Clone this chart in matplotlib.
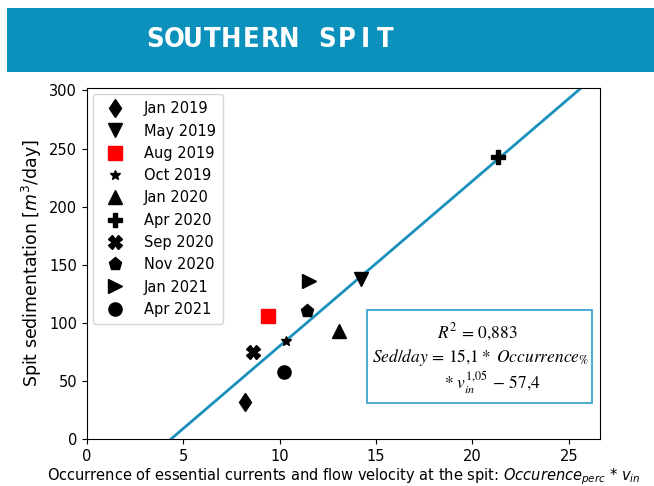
import matplotlib
matplotlib.use("Agg")
import matplotlib.pyplot as plt
from matplotlib.patches import Rectangle

labels = ["Jan 2019", "May 2019", "Aug 2019", "Oct 2019", "Jan 2020",
          "Apr 2020", "Sep 2020", "Nov 2020", "Jan 2021", "Apr 2021"]
x_vals = [8.2, 14.2, 9.4, 10.3, 13.1, 21.3, 8.6, 11.4, 11.5, 10.2]
y_vals = [32, 138, 106, 84, 93, 243, 75, 110, 136, 58]
markers = ["d", "v", "s", "*", "^", "P", "X", "p", ">", "o"]
colors = ["black", "black", "red", "black", "black", "black", "black", "black", "black", "black"]

fit_slope = 14.2
fit_intercept = -61.9
fit_x = [4.36, 26.6]

xticks = [0, 5, 10, 15, 20, 25]
yticks = [0, 50, 100, 150, 200, 250, 300]

BLUE = "#0b91bb"

fig = plt.figure(figsize=(6.54, 4.86), dpi=100)

# banner
fig.patches.append(Rectangle((0.0107, 0.852), 0.99, 0.132, transform=fig.transFigure,
                             facecolor=BLUE, edgecolor="none", zorder=0))
title = "SOUTHERN SPIT"
x0 = 145 / 654
adv = 19.2 / 654
for i, ch in enumerate(title):
    fig.text(x0 + i * adv + adv / 2, 0.918, ch, color="white", fontsize=19.5,
             fontweight="bold", family="DejaVu Sans", fontstretch="condensed",
             ha="center", va="center")

ax = fig.add_axes([0.133, 0.0967, 0.784, 0.722])

for xv, yv, m, c, lab in zip(x_vals, y_vals, markers, colors, labels):
    ms = 7.5 if m == "*" else 9.5
    ax.plot([xv], [yv], linestyle="none", marker=m, color=c, markersize=ms, label=lab, zorder=3)

fit_y = [fit_slope * v + fit_intercept for v in fit_x]
ax.plot(fit_x, fit_y, color="#1a90bd", linewidth=2, zorder=2)

ax.set_xlim(0, 26.6)
ax.set_ylim(0, 302)
ax.set_xticks(xticks)
ax.set_yticks(yticks)
ax.tick_params(labelsize=10.5)

ax.set_ylabel("Spit sedimentation [$m^3$/day]", fontsize=12.5)
ax.set_xlabel("Occurrence of essential currents and flow velocity at the spit: $Occurence_{perc}$ * $v_{in}$",
              fontsize=10.5, labelpad=2)

leg = ax.legend(loc="upper left", fontsize=10.5, frameon=True, handletextpad=1.0,
                borderpad=0.5, labelspacing=0.5, borderaxespad=0.4)
leg.get_frame().set_edgecolor("#cccccc")

# equation box
box = Rectangle((0.546, 0.103), 0.439, 0.265, transform=ax.transAxes,
                facecolor="white", edgecolor="#3ba5cf", linewidth=1.3, zorder=4)
ax.add_patch(box)
ax.text(0.762, 0.305, "$R^2\\,=\\,0{,}883$", transform=ax.transAxes, ha="center", va="center",
        fontsize=12.5, zorder=5, math_fontfamily="stix")
ax.text(0.767, 0.232, "$Sed/day\\,=\\,15{,}1 *\\ Occurrence_{\\%}$", transform=ax.transAxes,
        ha="center", va="center", fontsize=12.5, zorder=5, math_fontfamily="stix")
ax.text(0.79, 0.160, "$*\\ v_{in}^{1{,}05}\\,-\\,57{,}4$", transform=ax.transAxes,
        ha="center", va="center", fontsize=12.5, zorder=5, math_fontfamily="stix")

fig.savefig("out.png", dpi=100)
